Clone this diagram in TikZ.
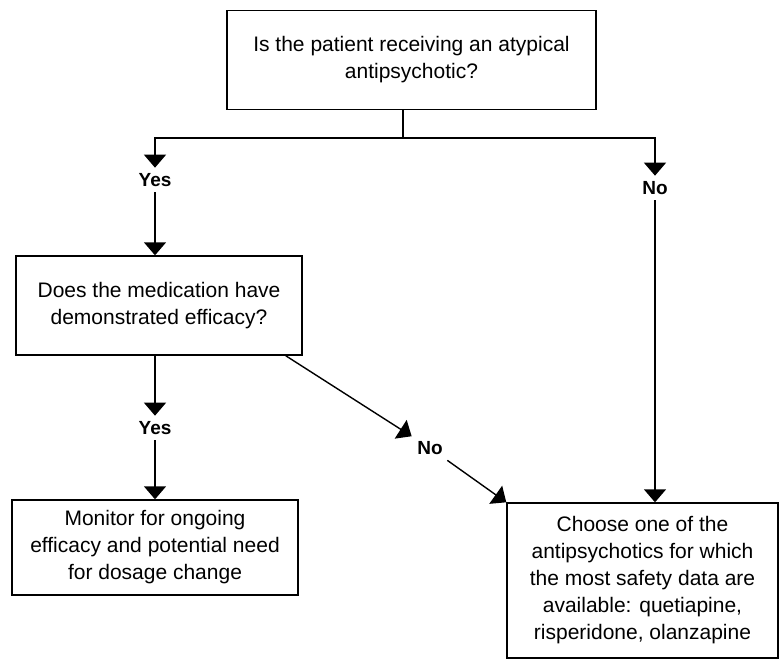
\documentclass[tikz,border=0pt]{standalone}
\usepackage{fontspec}
\setmainfont{Liberation Sans}
\usetikzlibrary{arrows.meta,positioning}

\begin{document}
\begin{tikzpicture}[x=1pt,y=-1pt,line width=1.4pt,
	flow/.style={-{Triangle[length=13pt,width=22pt]}},
	box/.style={draw,rectangle,align=center,inner sep=0pt,font=\fontsize{21}{27}\selectfont},
	answer/.style={font=\bfseries\fontsize{19}{22}\selectfont,inner sep=5pt}]
	\useasboundingbox (0,0) rectangle (782,662);
	% questions and outcomes
	\node[box,minimum width=369pt,minimum height=99pt] (atyp) at (411.5,60) {Is the patient receiving an atypical\\antipsychotic?};
	\node[box,minimum width=286pt,minimum height=99pt] (eff) at (159,305.5) {Does the medication have\\demonstrated efficacy?};
	\node[box,minimum width=286pt,minimum height=95pt] (mon) at (155,547.5) {Monitor for ongoing\\efficacy and potential need\\for dosage change};
	\node[box,minimum width=271pt,minimum height=155pt] (choose) at (642.5,580.5) {Choose one of the\\antipsychotics for which\\the most safety data are\\available: quetiapine,\\risperidone, olanzapine};
	% answers
	\node[answer] (yes0) at (155,180) {Yes};
	\node[answer] (no0) at (655,188) {No};
	\node[answer] (yes1) at (155,428) {Yes};
	\node[answer] (no1) at (430,448) {No};
	\coordinate (split) at (403,138);

	\draw (atyp.south -| split) -- (split);
	\draw[flow] (split) -| (yes0);
	\draw[flow] (split) -| (no0);
	\draw[flow] (yes0) -- (eff.north -| yes0);
	\draw[flow] (no0) -- (choose.north -| no0);
	\draw[flow] (eff.south -| yes1) -- (yes1);
	\draw[flow] (yes1) -- (mon.north -| yes1);
	\draw[flow] ([xshift=-17pt]eff.south east) -- (no1);
	\draw[flow] (no1) -- (choose.north west);
\end{tikzpicture}
\end{document}
